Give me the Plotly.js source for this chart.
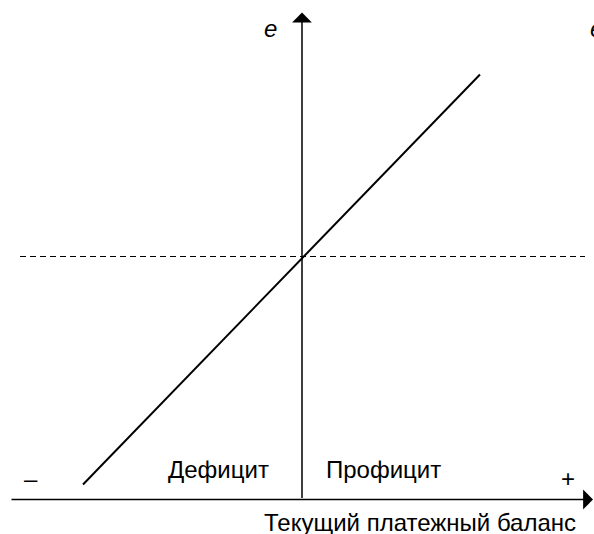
<!DOCTYPE html>
<html>
<head>
<meta charset="utf-8">
<script src="https://cdn.plot.ly/plotly-3.0.1.min.js"></script>
<style>
  html, body { margin: 0; padding: 0; background: #fff; }
  #chart { width: 594px; height: 534px; }
</style>
</head>
<body>
<div id="chart"></div>
<script>
// units: balance (x) and exchange rate e (y), origin = equilibrium
const lineX = [-2.19, 1.78];
const lineY = [-2.28, 1.82];
const eqLevel = [0, 0];
const dashX = [-2.82, 2.83];
const hAxisX = [-2.92, 2.91];
const vAxisY = [-2.43, 2.44];
const axisCross = -2.43;

const labels = [
    { text: '<i>e</i>', x: -0.32, y: 2.28 },
    { text: '<i>e</i>', x: 2.86, y: 2.28, xanchor: 'left' },
    { text: '–', x: -2.71, y: -2.22 },
    { text: '+', x: 2.66, y: -2.22 },
    { text: 'Дефицит', x: -0.84, y: -2.13 },
    { text: 'Профицит', x: 0.81, y: -2.13 },
    { text: 'Текущий платежный баланс', x: 1.18, y: -2.66 },
];

const black = '#000';

const traces = [
    {
        x: dashX, y: eqLevel,
        type: 'scatter', mode: 'lines',
        line: { color: black, width: 1, dash: '6px,4px' },
        hoverinfo: 'none',
    },
    {
        x: lineX, y: lineY,
        type: 'scatter', mode: 'lines',
        line: { color: black, width: 2 },
        hoverinfo: 'none',
    },
];

const arrows = [
    // horizontal axis
    { x: hAxisX[1], y: axisCross, ax: hAxisX[0], ay: axisCross },
    // vertical axis
    { x: 0, y: vAxisY[1], ax: 0, ay: vAxisY[0] },
].map(a => ({
    ...a,
    xref: 'x', yref: 'y', axref: 'x', ayref: 'y',
    text: '', showarrow: true,
    arrowhead: 1, arrowsize: 2.2, arrowwidth: 1.5, arrowcolor: black,
    standoff: 0,
}));

const textNotes = labels.map(l => ({
    x: l.x, y: l.y, xref: 'x', yref: 'y',
    text: l.text, showarrow: false,
    xanchor: l.xanchor || 'center', yanchor: 'middle',
    font: { family: 'Liberation Sans, Arial, sans-serif', size: 24, color: black },
}));

const layout = {
    width: 594, height: 534,
    margin: { t: 0, r: 0, b: 0, l: 0 },
    paper_bgcolor: '#fff', plot_bgcolor: '#fff',
    showlegend: false,
    xaxis: { range: [-3.02, 2.92], visible: false, fixedrange: true },
    yaxis: { range: [-2.775, 2.565], visible: false, fixedrange: true },
    annotations: [...arrows, ...textNotes],
};

Plotly.newPlot('chart', traces, layout, { displayModeBar: false, staticPlot: true });
</script>
</body>
</html>
